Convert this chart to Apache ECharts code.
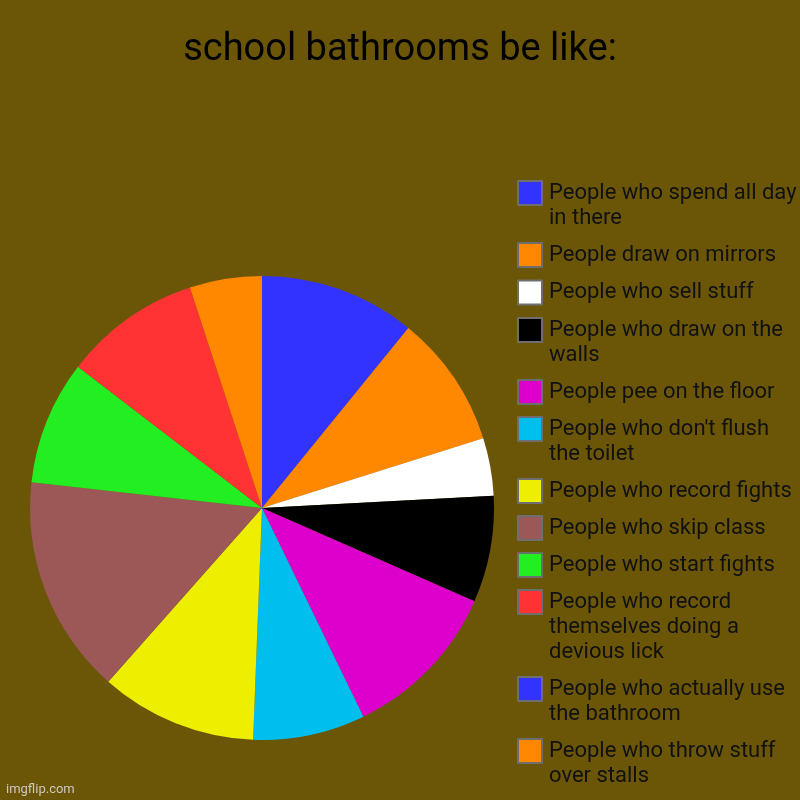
<!DOCTYPE html>
<html>
<head>
<meta charset="utf-8">
<script src="https://cdn.jsdelivr.net/npm/echarts@6/dist/echarts.min.js"></script>
<style>
  html, body { margin: 0; padding: 0; background: #6b5608; }
  #pie_chart { width: 800px; height: 800px; }
</style>
</head>
<body>
<div id="pie_chart"></div>
<script>
var chartTitle = "school bathrooms be like:";
var categories = [
    "People who spend all day in there",
    "People draw on mirrors",
    "People who sell stuff",
    "People who draw on the walls",
    "People pee on the floor",
    "People who don't flush the toilet",
    "People who record fights",
    "People who skip class",
    "People who start fights",
    "People who record themselves doing a devious lick",
    "People who actually use the bathroom",
    "People who throw stuff over stalls"
];
var values = [39.1, 33.4, 14.5, 26.7, 40.4, 28.1, 39.3, 54.9, 31.1, 34.4, 0, 18.1];
var colors = ["#3333ff", "#ff8800", "#ffffff", "#000000", "#dd00cc", "#00bfee",
              "#eeee00", "#9c5757", "#22ee22", "#ff3333", "#3333ff", "#ff8800"];

var FONT = "Roboto";
var LEG_SIZE = 22;
var LINE = 25;
var WRAP = 252;
var GAP = 12;

// wrap legend labels the same way the picture does
var ctx = document.createElement('canvas').getContext('2d');
ctx.font = LEG_SIZE + "px " + FONT;
function wrap(text) {
    var words = text.split(' '), lines = [], cur = '';
    words.forEach(function (w) {
        var t = cur ? cur + ' ' + w : w;
        if (cur && ctx.measureText(t).width > WRAP) {
            lines.push(cur);
            cur = w;
        } else {
            cur = t;
        }
    });
    lines.push(cur);
    return lines;
}

var wrapped = categories.map(wrap);
var nLines = wrapped.map(function (l) { return l.length; });

// echarts centres the icon on the text block, so blank lines are put in front
// to keep the icon on the first line; extra padding then evens out the gaps
function padding_fix(ns) {
    for (var K = 0; K < 2000; K += 1) {
        var e = [0], ok = true;
        for (var i = 1; i < ns.length; i++) {
            e[i] = K - ns[i] * LINE - e[i - 1];
            if (e[i] < 0) { ok = false; break; }
        }
        if (ok) return { pad: e, gap: GAP + LINE - K };
    }
}
var fix = padding_fix(nLines);

function pie_chart() {
    var chart = echarts.init(document.getElementById('pie_chart'));

    var pieData = [];
    var legendData = [];
    for (var i = 0; i < categories.length; i++) {
        pieData.push({ name: categories[i], value: values[i], itemStyle: { color: colors[i] } });
        var e = fix.pad[i];
        legendData.push({
            name: categories[i],
            textStyle: { padding: [e, 0, e, 2], backgroundColor: 'rgba(0,0,0,0)' }
        });
    }
    var firstIconY = 180;
    var legendTop = firstIconY - ((nLines[0] - 0.5) * LINE + fix.pad[0]);

    var option = {
        backgroundColor: '#6b5608',
        animation: false,
        title: {
            text: chartTitle,
            left: 'center',
            top: 26,
            textStyle: { fontFamily: FONT, fontSize: 38, fontWeight: 'normal', color: '#000' }
        },
        legend: {
            orient: 'vertical',
            left: 517,
            top: legendTop,
            height: 3000,
            padding: 0,
            itemWidth: 24,
            itemHeight: 24,
            itemGap: fix.gap,
            icon: 'rect',
            selectedMode: false,
            itemStyle: { borderColor: '#6e6e6e', borderWidth: 2 },
            textStyle: { fontFamily: FONT, fontSize: LEG_SIZE, lineHeight: LINE, color: '#111' },
            formatter: function (name) {
                var lines = wrapped[categories.indexOf(name)];
                var blank = new Array(lines.length).join('\n');
                return blank + lines.join('\n');
            },
            data: legendData
        },
        graphic: [{
            type: 'text',
            left: 6,
            bottom: 4,
            style: { text: 'imgflip.com', fontFamily: FONT, fontSize: 13, fill: 'rgba(220,220,220,0.85)' }
        }],
        series: [{
            type: 'pie',
            center: [262, 508],
            radius: 232,
            startAngle: 90,
            clockwise: true,
            silent: true,
            label: { show: false },
            labelLine: { show: false },
            itemStyle: { borderWidth: 0 },
            data: pieData
        }]
    };
    chart.setOption(option);
}

pie_chart();
</script>
</body>
</html>
